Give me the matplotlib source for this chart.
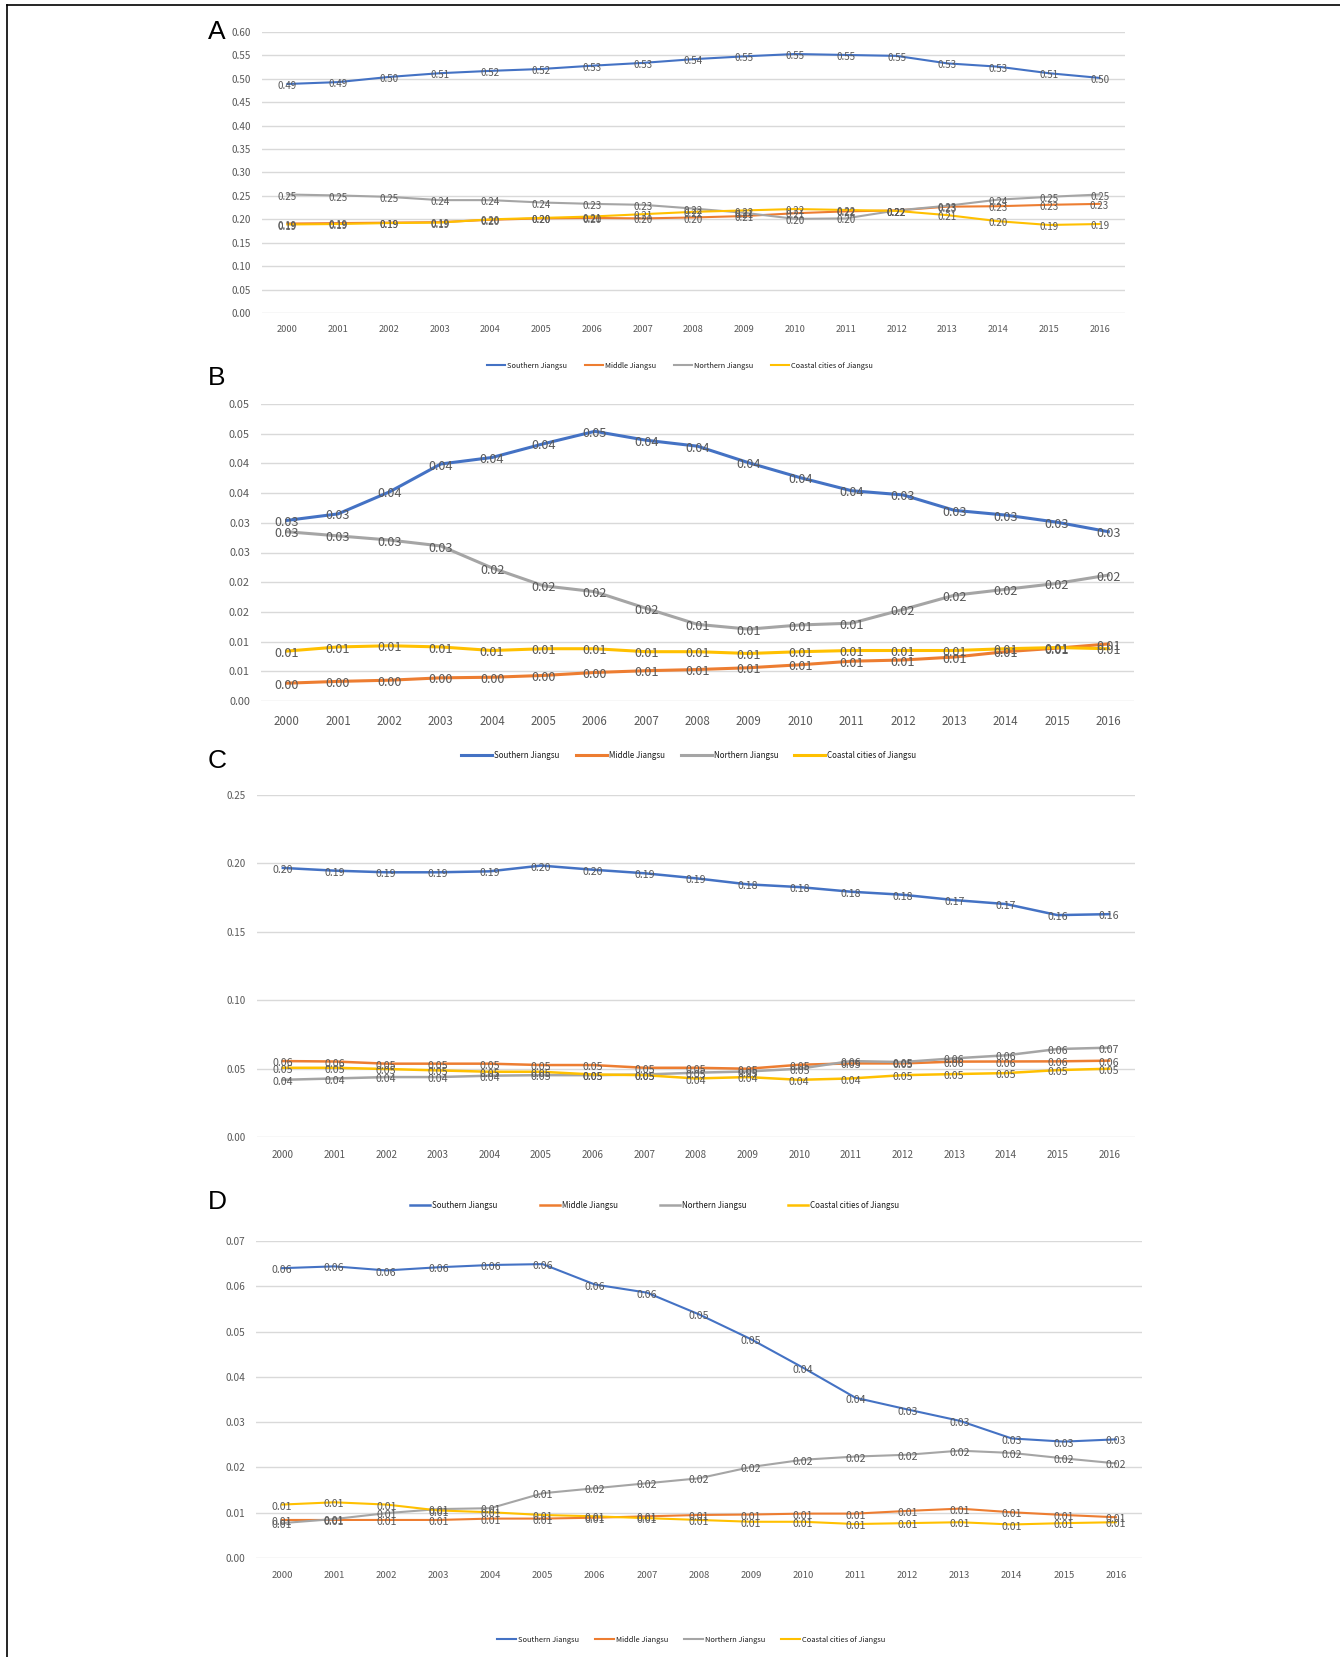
import matplotlib.pyplot as plt
import matplotlib.font_manager as fm
import numpy as np

years = [str(y) for y in range(2000, 2017)]
names = ['Southern Jiangsu', 'Middle Jiangsu', 'Northern Jiangsu', 'Coastal cities of Jiangsu']
colors = ['#4472C4', '#ED7D31', '#A5A5A5', '#FFC000']

# panel A
a_south = [0.489, 0.493, 0.504, 0.512, 0.517, 0.521, 0.528, 0.534, 0.542, 0.548, 0.553, 0.551, 0.549, 0.533, 0.526, 0.512, 0.502]
a_middle = [0.191, 0.192, 0.193, 0.194, 0.199, 0.202, 0.203, 0.202, 0.204, 0.207, 0.213, 0.217, 0.219, 0.227, 0.228, 0.231, 0.233]
a_north = [0.253, 0.251, 0.248, 0.241, 0.241, 0.236, 0.233, 0.231, 0.223, 0.214, 0.201, 0.202, 0.219, 0.229, 0.242, 0.248, 0.253]
a_coast = [0.189, 0.190, 0.192, 0.193, 0.200, 0.203, 0.206, 0.211, 0.216, 0.219, 0.222, 0.220, 0.218, 0.209, 0.196, 0.188, 0.190]

# panel B
b_south = [0.0304, 0.0315, 0.0352, 0.0399, 0.0410, 0.0433, 0.0454, 0.0439, 0.0429, 0.0401, 0.0376, 0.0354, 0.0347, 0.0321, 0.0313, 0.0301, 0.0285]
b_middle = [0.0030, 0.0033, 0.0035, 0.0039, 0.0040, 0.0043, 0.0048, 0.0051, 0.0053, 0.0056, 0.0061, 0.0067, 0.0069, 0.0074, 0.0083, 0.0089, 0.0096]
b_north = [0.0285, 0.0278, 0.0271, 0.0261, 0.0224, 0.0194, 0.0184, 0.0156, 0.0129, 0.0121, 0.0128, 0.0131, 0.0154, 0.0178, 0.0188, 0.0198, 0.0212]
b_coast = [0.0084, 0.0091, 0.0093, 0.0091, 0.0085, 0.0088, 0.0088, 0.0083, 0.0083, 0.0080, 0.0083, 0.0085, 0.0085, 0.0085, 0.0088, 0.0090, 0.0088]
b_ticklabels = ['0.00', '0.01', '0.01', '0.02', '0.02', '0.03', '0.03', '0.04', '0.04', '0.05', '0.05']

# panel C
c_south = [0.1967, 0.1947, 0.1935, 0.1935, 0.1942, 0.1984, 0.1954, 0.1928, 0.1891, 0.1847, 0.1827, 0.1793, 0.1771, 0.1732, 0.1703, 0.1622, 0.1629]
c_middle = [0.0555, 0.0552, 0.0536, 0.0536, 0.0536, 0.0526, 0.0526, 0.0506, 0.0506, 0.0499, 0.0528, 0.0538, 0.0538, 0.0551, 0.0552, 0.0553, 0.0558]
c_north = [0.0418, 0.0428, 0.0438, 0.0438, 0.0448, 0.0452, 0.0452, 0.0457, 0.0470, 0.0479, 0.0499, 0.0555, 0.0548, 0.0575, 0.0597, 0.0643, 0.0653]
c_coast = [0.0506, 0.0506, 0.0497, 0.0487, 0.0477, 0.0477, 0.0457, 0.0452, 0.0428, 0.0438, 0.0418, 0.0428, 0.0452, 0.0460, 0.0467, 0.0489, 0.0499]

# panel D
d_south = [0.0640, 0.0644, 0.0635, 0.0642, 0.0647, 0.0649, 0.0604, 0.0586, 0.0538, 0.0483, 0.0420, 0.0354, 0.0328, 0.0303, 0.0264, 0.0257, 0.0262]
d_middle = [0.0084, 0.0084, 0.0084, 0.0084, 0.0087, 0.0087, 0.0089, 0.0092, 0.0095, 0.0096, 0.0098, 0.0098, 0.0104, 0.0109, 0.0101, 0.0095, 0.0090]
d_north = [0.0077, 0.0086, 0.0099, 0.0108, 0.0110, 0.0143, 0.0154, 0.0165, 0.0176, 0.0201, 0.0217, 0.0224, 0.0228, 0.0237, 0.0232, 0.0220, 0.0209]
d_coast = [0.0118, 0.0123, 0.0118, 0.0105, 0.0101, 0.0095, 0.0092, 0.0088, 0.0084, 0.0080, 0.0080, 0.0075, 0.0077, 0.0079, 0.0074, 0.0077, 0.0079]

# narrow latin face, close to the squeezed Calibri of the source
FAMILY = ['Noto Sans CJK SC', 'Liberation Sans']
SCALE = 1.12

W, H = 1340, 1657
fig = plt.figure(figsize=(W / 100, H / 100), dpi=100)


def add_ax(l, t, r, b):
    return fig.add_axes([l / W, 1 - b / H, (r - l) / W, (b - t) / H])


panels = [
    dict(box=(262, 32, 1125, 313), data=[a_south, a_middle, a_north, a_coast],
         ymax=0.60, yticks=np.arange(0, 0.601, 0.05), ylabels=None,
         fs_y=6.4, fs_x=6.0, fs_lab=6.3, lw=1.5, xpad=9,
         leg=(680, 366), fs_leg=4.75, hl=18, cs=18,
         letter='A', lpos=(217, 32)),
    dict(box=(261, 404, 1134, 701), data=[b_south, b_middle, b_north, b_coast],
         ymax=0.05, yticks=np.arange(0, 0.0501, 0.005), ylabels=b_ticklabels,
         fs_y=7.0, fs_x=7.4, fs_lab=8.2, lw=2.2, xpad=10,
         leg=(689, 755), fs_leg=5.15, hl=31, cs=16,
         letter='B', lpos=(217, 378)),
    dict(box=(257, 795, 1135, 1137), data=[c_south, c_middle, c_north, c_coast],
         ymax=0.25, yticks=np.arange(0, 0.251, 0.05), ylabels=None,
         fs_y=6.3, fs_x=6.4, fs_lab=6.8, lw=1.8, xpad=9,
         leg=(655, 1205), fs_leg=5.15, hl=20, cs=42,
         letter='C', lpos=(217, 761)),
    dict(box=(256, 1241, 1142, 1558), data=[d_south, d_middle, d_north, d_coast],
         ymax=0.07, yticks=np.arange(0, 0.0701, 0.01), ylabels=None,
         fs_y=6.5, fs_x=6.1, fs_lab=6.8, lw=1.5, xpad=9,
         leg=(691, 1640), fs_leg=4.8, hl=19, cs=16,
         letter='D', lpos=(217, 1202)),
]

x = np.arange(len(years))
for p in panels:
    ax = add_ax(*p['box'])
    handles = []
    for vals, name, col in zip(p['data'], names, colors):
        h, = ax.plot(x, vals, color=col, lw=p['lw'], label=name, solid_joinstyle='round')
        handles.append(h)
    for vals in p['data']:
        for i, v in enumerate(vals):
            ax.annotate(f'{v:.2f}', (i, v), xytext=(0, -1.5), textcoords='offset points',
                        ha='center', va='center', fontsize=p['fs_lab'] * SCALE, color='#595959',
                        family=FAMILY)
    ax.set_xlim(-0.5, len(years) - 0.5)
    ax.set_ylim(0, p['ymax'])
    ax.set_xticks(x)
    ax.set_xticklabels(years)
    ax.set_yticks(p['yticks'])
    if p['ylabels'] is not None:
        ax.set_yticklabels(p['ylabels'])
    else:
        ax.set_yticklabels([f'{t:.2f}' for t in p['yticks']])
    for lab in ax.get_xticklabels():
        lab.set_family(FAMILY)
        lab.set_fontsize(p['fs_x'] * SCALE)
        lab.set_color('#595959')
    for lab in ax.get_yticklabels():
        lab.set_family(FAMILY)
        lab.set_fontsize(p['fs_y'] * SCALE)
        lab.set_color('#595959')
    ax.tick_params(axis='both', length=0)
    ax.tick_params(axis='x', pad=p['xpad'])
    ax.tick_params(axis='y', pad=8)
    ax.grid(axis='y', color='#D9D9D9', lw=1.0)
    ax.set_axisbelow(True)
    for s in ax.spines.values():
        s.set_visible(False)
    fs_px = p['fs_leg'] * SCALE * 100 / 72
    leg = fig.legend(handles=handles, loc='center', ncol=4, frameon=False,
                     bbox_to_anchor=(p['leg'][0] / W, 1 - p['leg'][1] / H),
                     bbox_transform=fig.transFigure,
                     prop=fm.FontProperties(family=FAMILY, size=p['fs_leg'] * SCALE),
                     handlelength=p['hl'] / fs_px, handletextpad=2 / fs_px,
                     columnspacing=p['cs'] / fs_px)
    for t in leg.get_texts():
        t.set_color('#1a1a1a')
    fig.text(p['lpos'][0] / W, 1 - p['lpos'][1] / H, p['letter'], fontsize=19,
             family='Liberation Sans', ha='center', va='center', color='black')

# outer frame (left and top edges)
fig.add_artist(plt.Line2D([7 / W, 7 / W], [0, 1 - 5 / H], transform=fig.transFigure, color='black', lw=1.2))
fig.add_artist(plt.Line2D([7 / W, 1], [1 - 5 / H, 1 - 5 / H], transform=fig.transFigure, color='black', lw=1.2))

fig.savefig('out.png', dpi=100)
